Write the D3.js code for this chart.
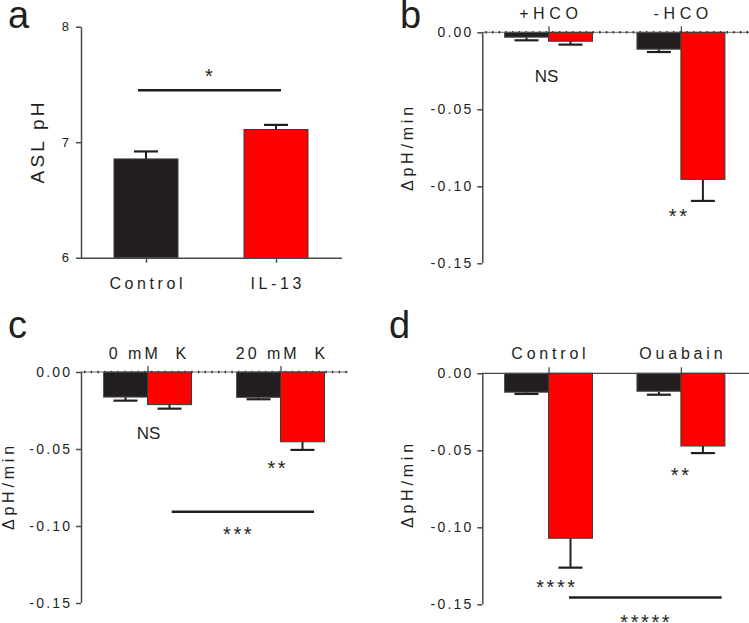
<!DOCTYPE html>
<html>
<head>
<meta charset="utf-8">
<script src="https://cdn.jsdelivr.net/npm/d3@7"></script>
<style>
  html, body { margin: 0; padding: 0; background: #fff; }
  svg { display: block; }
  text { font-family: "Liberation Sans", Arial, sans-serif; fill: #231f20; }
</style>
</head>
<body>
<svg id="chart" width="749" height="623"></svg>
<script>
// ---------- DATA ----------
// Panel a
const aCategories = ["Control", "IL-13"];
const aValues = [6.855, 7.11];
const aErrors = [0.065, 0.04];
const aTicks = [6, 7, 8];
const aSigLevel = 7.45;

// Panel b
const bGroups = ["+HCO", "-HCO"];
const bBlack = [-0.0032, -0.011];
const bBlackErr = [0.002, 0.0018];
const bRed = [-0.0058, -0.0955];
const bRedErr = [0.0022, 0.014];

// Panel c
const cGroups = ["0 mM  K", "20 mM  K"];
const cBlack = [-0.0163, -0.0165];
const cBlackErr = [0.0023, 0.0012];
const cRed = [-0.0212, -0.0453];
const cRedErr = [0.0026, 0.0053];
const cSigLevel = -0.0907;

// Panel d
const dGroups = ["Control", "Ouabain"];
const dBlack = [-0.0123, -0.0117];
const dBlackErr = [0.0011, 0.0022];
const dRed = [-0.1071, -0.0472];
const dRedErr = [0.0191, 0.0046];
const dSigLevel = -0.1456;

const rateTicks = [0, -0.05, -0.10, -0.15];
const rateTickLabels = ["0.00", "-0.05", "-0.10", "-0.15"];

// ---------- STYLE ----------
const BLACK = "#231f20", RED = "#ff0000", AXIS = "#4a4a4a";
const svg = d3.select("#chart");

function spacedText(g, x, y, str, size, spacing, anchor) {
  const t = g.append("text").attr("x", x).attr("y", y)
    .attr("font-size", size).attr("letter-spacing", spacing)
    .attr("text-anchor", anchor || "middle").text(str);
  if ((anchor || "middle") === "middle") t.attr("dx", spacing / 2);
  if (anchor === "end") t.attr("dx", spacing);
  return t;
}
function stars(g, x, cy, n) {
  const size = 20;
  spacedText(g, x, cy + size * 0.56, "*".repeat(n), size, 2.6);
}
function nsLabel(g, x, cy) {
  g.append("text").attr("x", x).attr("y", cy + 6).attr("text-anchor", "middle")
    .attr("font-family", "'Open Sans', 'Noto Sans', sans-serif")
    .attr("font-size", 17).text("NS");
}
function errBar(g, x, y0, y1, cap) {
  g.append("line").attr("x1", x).attr("x2", x).attr("y1", y0).attr("y2", y1)
    .attr("stroke", BLACK).attr("stroke-width", 2);
  g.append("line").attr("x1", x - cap / 2).attr("x2", x + cap / 2).attr("y1", y1).attr("y2", y1)
    .attr("stroke", BLACK).attr("stroke-width", 2.2);
}
function panelLetter(x, y, s) {
  svg.append("text").attr("x", x).attr("y", y).attr("font-size", 38).text(s);
}

// ---------- PANEL A ----------
(function () {
  const g = svg.append("g");
  const x = d3.scalePoint().domain(aCategories).range([81, 341]).padding(0.5);
  const y = d3.scaleLinear().domain([6, 8]).range([257.7, 26.7]);
  const bw = 64;

  aCategories.forEach((c, i) => {
    const cx = x(c);
    errBar(g, cx, y(aValues[i]), y(aValues[i] + aErrors[i]), 24);
    g.append("rect").attr("x", cx - bw / 2).attr("width", bw)
      .attr("y", y(aValues[i])).attr("height", y(6) - y(aValues[i]))
      .attr("fill", i === 0 ? BLACK : RED).attr("stroke", "#3a3a3a").attr("stroke-width", 1);
  });

  const ya = g.append("g").attr("transform", "translate(81,0)")
    .call(d3.axisLeft(y).tickValues(aTicks).tickFormat(d3.format("d")).tickSize(5).tickSizeOuter(0).tickPadding(7));
  ya.select(".domain").attr("stroke", AXIS).attr("stroke-width", 1.5);
  ya.selectAll(".tick line").attr("stroke", AXIS).attr("stroke-width", 1.5);
  ya.selectAll(".tick text").attr("font-size", 13).attr("fill", BLACK)
    .attr("font-family", "'Liberation Sans', Arial, sans-serif");

  const xa = g.append("g").attr("transform", "translate(0,257.7)")
    .call(d3.axisBottom(x).tickSize(5).tickSizeOuter(0).tickFormat(""));
  xa.select(".domain").attr("stroke", AXIS).attr("stroke-width", 1.5);
  xa.selectAll(".tick line").attr("stroke", AXIS).attr("stroke-width", 1.5);
  xa.select(".domain").attr("d", "M81,0.5H342");

  aCategories.forEach(c => spacedText(g, x(c), 289, c, 16, 3.6));

  // y label
  g.append("text").attr("transform", "translate(44,143) rotate(-90)")
    .attr("text-anchor", "middle").attr("font-size", 19).attr("letter-spacing", 3.2).attr("dx", 1.6)
    .text("ASL pH");

  // significance
  g.append("line").attr("x1", x(aCategories[0]) - 8).attr("x2", x(aCategories[1]) + 5)
    .attr("y1", y(aSigLevel)).attr("y2", y(aSigLevel)).attr("stroke", BLACK).attr("stroke-width", 2.5);
  stars(g, (x(aCategories[0]) + x(aCategories[1])) / 2 - 2, 72, 1);
})();

// ---------- generic grouped rate panel ----------
function ratePanel(opts) {
  const g = svg.append("g");
  const x = d3.scalePoint().domain(opts.groups).range([opts.x0, opts.x0 + 2 * opts.step]).padding(0.5);
  const y = d3.scaleLinear().domain([-0.15, 0]).range([opts.yBottom, opts.yTop]);
  const bw = 44;
  const y0 = y(0);

  // zero line
  if (opts.dotted) {
    g.append("line").attr("x1", opts.x0).attr("x2", opts.zeroEnd).attr("y1", y0).attr("y2", y0)
      .attr("stroke", "#6a6a6a").attr("stroke-width", 1);
    g.append("line").attr("x1", opts.x0 + 3).attr("x2", opts.zeroEnd).attr("y1", y0).attr("y2", y0)
      .attr("stroke", "#333").attr("stroke-width", 2.6).attr("stroke-dasharray", "1.4 5.3");
  } else {
    g.append("line").attr("x1", opts.x0).attr("x2", opts.zeroEnd).attr("y1", y0).attr("y2", y0)
      .attr("stroke", AXIS).attr("stroke-width", 1.3);
  }

  opts.groups.forEach((grp, i) => {
    const cx = x(grp);
    const vb = opts.black[i], vr = opts.red[i];
    errBar(g, cx - bw / 2, y(vb), y(vb - opts.blackErr[i]), 24);
    errBar(g, cx + bw / 2, y(vr), y(vr - opts.redErr[i]), 24);
    g.append("rect").attr("x", cx - bw).attr("width", bw)
      .attr("y", y0).attr("height", y(vb) - y0)
      .attr("fill", BLACK).attr("stroke", "#555").attr("stroke-width", 1);
    g.append("rect").attr("x", cx).attr("width", bw)
      .attr("y", y0).attr("height", y(vr) - y0)
      .attr("fill", RED).attr("stroke", "#3a3a3a").attr("stroke-width", 1);
  });

  // x category ticks (upward) and labels
  const xa = g.append("g").attr("transform", `translate(0,${y0})`)
    .call(d3.axisTop(x).tickSize(6).tickFormat(""));
  xa.select(".domain").remove();
  xa.selectAll(".tick line").attr("stroke", AXIS).attr("stroke-width", 1.3);
  opts.groups.forEach(grp => {
    const t = spacedText(g, x(grp), opts.labelY, grp, 16, opts.labelSpacing);
    t.attr("xml:space", "preserve").style("white-space", "pre");
  });

  // y axis
  const ya = g.append("g").attr("transform", `translate(${opts.x0},0)`)
    .call(d3.axisLeft(y).tickValues(rateTicks)
      .tickFormat((d, i) => rateTickLabels[i]).tickSize(5).tickSizeOuter(0).tickPadding(6));
  ya.select(".domain").attr("stroke", AXIS).attr("stroke-width", 1.5)
    .attr("d", `M0.5,${y(-0.15)}V${y0}`);
  ya.selectAll(".tick line").attr("stroke", AXIS).attr("stroke-width", 1.5);
  ya.selectAll(".tick text").attr("font-size", 14).attr("fill", BLACK)
    .attr("letter-spacing", 2.2).attr("dx", 2.2)
    .attr("font-family", "'Liberation Sans', Arial, sans-serif");

  // y label
  g.append("text").attr("transform", `translate(${opts.yLabelX},${opts.yLabelY}) rotate(-90)`)
    .attr("text-anchor", "middle").attr("font-size", 16).attr("letter-spacing", 3.8).attr("dx", 1.9)
    .text("\u0394pH/min");

  return { g, x, y };
}

// ---------- PANEL B ----------
(function () {
  const p = ratePanel({ groups: bGroups, black: bBlack, blackErr: bBlackErr, red: bRed, redErr: bRedErr,
    x0: 482.3, step: 132.4, yTop: 32.3, yBottom: 263.3, dotted: true, zeroEnd: 749,
    labelY: 19, labelSpacing: 4.6, yLabelX: 413, yLabelY: 149 });
  nsLabel(p.g, p.x(bGroups[0]) - 2, 76);
  stars(p.g, p.x(bGroups[1]) - 3, 211.7, 2);
})();

// ---------- PANEL C ----------
(function () {
  const p = ratePanel({ groups: cGroups, black: cBlack, blackErr: cBlackErr, red: cRed, redErr: cRedErr,
    x0: 81, step: 133, yTop: 372, yBottom: 603, dotted: true, zeroEnd: 348,
    labelY: 358.5, labelSpacing: 3, yLabelX: 14, yLabelY: 488 });
  nsLabel(p.g, p.x(cGroups[0]) + 1, 432.7);
  stars(p.g, p.x(cGroups[1]) - 4, 463.3, 2);
  p.g.append("line").attr("x1", 171.7).attr("x2", 314)
    .attr("y1", p.y(cSigLevel)).attr("y2", p.y(cSigLevel)).attr("stroke", BLACK).attr("stroke-width", 2.5);
  stars(p.g, 237.3, 530, 3);
})();

// ---------- PANEL D ----------
(function () {
  const p = ratePanel({ groups: dGroups, black: dBlack, blackErr: dBlackErr, red: dRed, redErr: dRedErr,
    x0: 482.3, step: 132.4, yTop: 373.3, yBottom: 604.3, dotted: false, zeroEnd: 749,
    labelY: 359, labelSpacing: 3.8, yLabelX: 413, yLabelY: 486 });
  stars(p.g, p.x(dGroups[1]) - 1, 471, 2);
  stars(p.g, 555.7, 582.3, 4);
  p.g.append("line").attr("x1", 569).attr("x2", 721.7)
    .attr("y1", p.y(dSigLevel)).attr("y2", p.y(dSigLevel)).attr("stroke", BLACK).attr("stroke-width", 2.5);
  stars(p.g, 645, 617.5, 5);
})();

// ---------- panel letters ----------
panelLetter(8, 28, "a");
panelLetter(400, 28, "b");
panelLetter(8, 338, "c");
panelLetter(389, 338, "d");
</script>
</body>
</html>
